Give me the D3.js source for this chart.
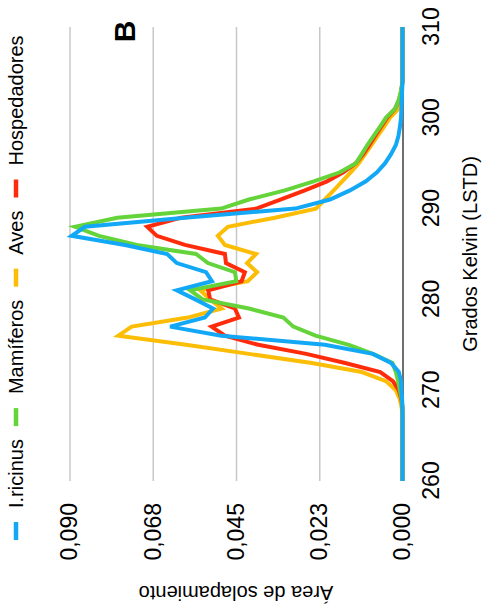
<!DOCTYPE html>
<html>
<head>
<meta charset="utf-8">
<script src="https://cdn.jsdelivr.net/npm/d3@7"></script>
<style>
  html, body { margin: 0; padding: 0; background: #ffffff; }
  svg { display: block; }
  text { font-family: "Liberation Sans", Arial, Helvetica, sans-serif; fill: #000; }
</style>
</head>
<body>
<svg id="chart" width="482" height="611"></svg>
<script>
// ---------------- DATA ----------------
const kelvin = d3.range(260, 311); // 260 ... 310, 1 K steps

const iricinus = [
  0,0,0,0,0,0,0,0,0,
  0.0001,0.0003,0.0004,0.0010,0.0031,0.0080,0.0210,0.0490,0.0628,0.0534,
  0.0512,0.0560,0.0610,0.0515,0.0531,0.0610,0.0636,0.0750,0.0894,0.0858,
  0.0588,0.0290,0.0196,0.0142,0.0099,0.0069,0.0047,0.0031,0.0018,0.0011,
  0.0007,0.0004,0.0003,0.0002,0.0001,
  0,0,0,0,0,0,0
];
const mamiferos = [
  0,0,0,0,0,0,0,0,0,
  0.0002,0.0007,0.0012,0.0018,0.0027,0.0080,0.0145,0.0235,0.0295,0.0322,
  0.0415,0.0540,0.0574,0.0449,0.0453,0.0526,0.0558,0.0718,0.0820,0.0885,
  0.0771,0.0490,0.0415,0.0318,0.0240,0.0169,0.0126,0.0110,0.0095,0.0078,
  0.0061,0.0045,0.0020,0.0010,0.0004,
  0,0,0,0,0,0,0
];
const aves = [
  0,0,0,0,0,0,0,0,
  0.0002,0.0007,0.0018,0.0045,0.0110,0.0245,0.0415,0.0585,0.0768,0.0732,
  0.0580,0.0489,0.0520,0.0547,0.0418,0.0393,0.0420,0.0396,0.0480,0.0499,
  0.0472,0.0345,0.0234,0.0210,0.0186,0.0163,0.0140,0.0118,0.0101,0.0084,
  0.0067,0.0050,0.0034,0.0011,0.0007,0.0003,
  0,0,0,0,0,0,0
];
const hospedadores = [
  0,0,0,0,0,0,0,0,0,
  0.0003,0.0010,0.0026,0.0060,0.0155,0.0260,0.0390,0.0480,0.0516,0.0442,
  0.0453,0.0520,0.0525,0.0435,0.0426,0.0477,0.0480,0.0588,0.0664,0.0690,
  0.0598,0.0395,0.0330,0.0264,0.0204,0.0160,0.0126,0.0106,0.0090,0.0074,
  0.0058,0.0042,0.0020,0.0009,0.0003,
  0,0,0,0,0,0,0
];

const seriesNames  = ["I.ricinus", "Mamíferos", "Aves", "Hospedadores"];
const seriesColors = ["#12a8f6", "#64d43a", "#fbbd06", "#ff2c0c"];
const drawOrder    = [2, 3, 1, 0]; // indices into the series list (last = on top)

const kelvinTicks      = [260, 270, 280, 290, 300, 310];
const valueTicks       = [0, 0.0225, 0.045, 0.0675, 0.09];
const valueTickLabels  = ["0,000", "0,023", "0,045", "0,068", "0,090"];

const xTitle = "Grados Kelvin (LSTD)";
const yTitle = "Área de solapamiento";
const panelLabel = "B";

// ---------------- LAYOUT (chart is drawn unrotated, then turned 90° CCW) ----------------
const W = 611, H = 482;
const svg = d3.select("#chart");
svg.append("rect").attr("width", 482).attr("height", 611).attr("fill", "#fff");

const g = svg.append("g").attr("transform", `translate(0,${W}) rotate(-90)`);

const x = d3.scaleLinear().domain([260, 310]).range([130, 584]);
const y = d3.scaleLinear().domain([0, 0.09]).range([402.5, 69.5]);

const allSeries = [iricinus, mamiferos, aves, hospedadores];

// value axis with gridlines
const yAxis = g.append("g")
  .attr("transform", `translate(${x(260)},0)`)
  .call(d3.axisLeft(y)
    .tickValues(valueTicks)
    .tickFormat((d, i) => valueTickLabels[i])
    .tickSize(-(x(310) - x(260)))
    .tickPadding(22));
yAxis.select(".domain").remove();
yAxis.selectAll(".tick line")
  .attr("stroke", d => d === 0 ? "#6f6f6f" : "#c8c8c8")
  .attr("stroke-width", d => d === 0 ? 2 : 1.5);
yAxis.selectAll(".tick text")
  .attr("font-size", 23)
  .attr("fill", "#000")
  .style("font-family", '"Liberation Sans", Arial, Helvetica, sans-serif');

// Kelvin axis (labels only)
const xAxis = g.append("g")
  .attr("transform", `translate(0,${y(0)})`)
  .call(d3.axisBottom(x).tickValues(kelvinTicks).tickFormat(d3.format("d")).tickSize(0).tickPadding(20));
xAxis.select(".domain").remove();
xAxis.selectAll(".tick text")
  .attr("font-size", 23)
  .attr("fill", "#000")
  .style("font-family", '"Liberation Sans", Arial, Helvetica, sans-serif');

// series lines
const line = d3.line()
  .x((d, i) => x(kelvin[i]))
  .y(d => y(d));

drawOrder.forEach(si => {
  g.append("path")
    .datum(allSeries[si])
    .attr("fill", "none")
    .attr("stroke", seriesColors[si])
    .attr("stroke-width", 4)
    .attr("stroke-linejoin", "miter")
    .attr("d", line);
});

// axis titles
g.append("text")
  .attr("x", (x(260) + x(310)) / 2)
  .attr("y", 477)
  .attr("text-anchor", "middle")
  .attr("font-size", 20)
  .text(xTitle);

g.append("text")
  .attr("transform", `translate(25,${(y(0) + y(0.09)) / 2}) rotate(-90)`)
  .attr("text-anchor", "middle")
  .attr("font-size", 20)
  .text(yTitle);

// panel label
g.append("text")
  .attr("x", 579.5)
  .attr("y", 135)
  .attr("text-anchor", "middle")
  .attr("font-size", 30)
  .attr("font-weight", "bold")
  .text(panelLabel);

// legend
const legend = g.append("g");
let lx = 71;
seriesNames.forEach((name, i) => {
  legend.append("line")
    .attr("x1", lx).attr("x2", lx + 18)
    .attr("y1", 16).attr("y2", 16)
    .attr("stroke", seriesColors[i])
    .attr("stroke-width", 4.5);
  const t = legend.append("text")
    .attr("x", lx + 32)
    .attr("y", 23)
    .attr("font-size", 20)
    .text(name);
  lx = lx + 32 + t.node().getComputedTextLength() + 13;
});
</script>
</body>
</html>
